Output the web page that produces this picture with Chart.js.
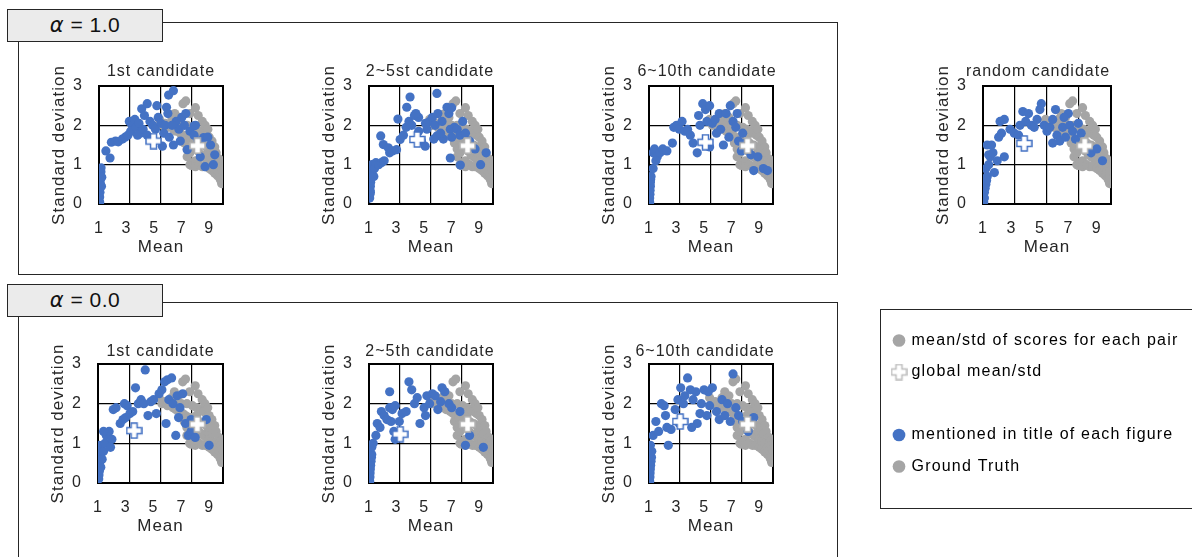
<!DOCTYPE html>
<html>
<head>
<meta charset="utf-8">
<script src="https://cdn.jsdelivr.net/npm/chart.js@4.4.1/dist/chart.umd.min.js"></script>
<style>
  body { margin: 0; width: 1192px; height: 557px; position: relative; overflow: hidden; background: #fff;
         font-family: "Liberation Sans", Arial, sans-serif; }
  .frame { position: absolute; box-sizing: border-box; border: 1.5px solid #262626; }
  .tag { position: absolute; box-sizing: border-box; left: 7px; width: 156px; height: 33px; background: #ebebeb;
         border: 1.5px solid #262626; font-size: 21px; line-height: 30px; text-align: center; color: #111; letter-spacing: 0.5px; }
  .tag i { font-family: "DejaVu Sans", sans-serif; }
  canvas { position: absolute; }
</style>
</head>
<body>
<div class="frame" style="left:18px;top:22px;width:820px;height:253px"></div>
<div class="frame" style="left:18px;top:302px;width:820px;height:300px"></div>
<div class="frame" style="left:880px;top:309px;width:330px;height:200px"></div>
<div class="tag" style="top:9px"><i>α</i> = 1.0</div>
<div class="tag" style="top:284px"><i>α</i> = 0.0</div>

<script>
const FONT = '"Liberation Sans", Arial, sans-serif';
const BLUE = '#4472C4';
const GRAY = '#A5A5A5';
const TEXT = '#262626';

// axis ticks
const xTickValues = [1, 3, 5, 7, 9];
const xGridValues = [1, 3.25, 5.5, 7.75, 10];

// ground truth: mean/std of scores for each pair (same in every panel)
const gtPairs = [
  [5.4,2.15],[5.6,2.0],[5.8,2.05],[6.0,1.95],[6.2,2.0],[6.3,2.15],[6.4,1.9],[6.5,2.3],[6.6,1.85],[6.7,2.05],
  [6.8,2.2],[6.9,1.8],[7.0,2.0],[7.1,2.55],[7.1,1.75],[7.2,1.55],[7.3,2.62],[7.3,1.7],[7.4,2.0],[7.4,1.4],
  [7.4,1.2],[7.5,1.65],[7.6,2.3],[7.6,1.3],[7.6,1.0],[7.7,1.65],[7.7,0.98],[7.8,1.95],[7.8,1.5],[7.8,1.05],
  [7.9,1.6],[8.0,2.45],[8.0,1.45],[8.0,1.1],[8.0,0.95],[8.1,1.9],[8.1,1.7],[8.2,2.25],[8.2,1.35],[8.3,1.55],
  [8.3,1.0],[8.4,1.85],[8.4,1.25],[8.5,2.1],[8.5,0.95],[8.6,1.8],[8.6,1.5],[8.6,1.2],[8.7,2.0],[8.7,0.95],
  [8.8,1.75],[8.8,1.45],[8.8,1.15],[8.9,1.9],[8.9,1.3],[9.0,1.7],[9.0,1.25],[9.0,1.1],[9.0,0.9],[9.1,1.4],
  [9.2,1.6],[9.2,1.05],[9.2,0.85],[9.3,1.25],[9.4,1.45],[9.4,1.0],[9.4,0.78],[9.5,1.3],[9.6,0.9],[9.6,0.72],
  [9.7,1.15],[9.7,0.82],[9.8,1.05],[9.8,0.62],[9.85,0.95],[9.9,0.7],[9.9,0.52],[9.95,0.85],[9.95,0.6]
];
const gtGlobal = [8.15, 1.48];

// alpha = 1.0
const a1First = [
  [1.05,0.05],[1.05,0.18],[1.07,0.3],[1.08,0.42],[1.1,0.52],[1.1,0.62],[1.12,0.72],[1.14,0.82],[1.15,0.92],[1.2,0.68],[1.18,0.45],
  [1.5,1.35],[1.8,1.17],[1.9,1.57],[2.2,1.6],[2.4,1.58],[2.7,1.65],[2.9,1.7],[3.1,1.75],[3.2,2.1],[3.4,2.0],[3.3,1.85],
  [3.6,2.15],[3.7,1.95],[3.9,2.05],[4.0,1.8],[4.1,2.42],[4.3,2.25],[4.5,2.55],[4.2,1.9],[4.5,1.75],[4.7,2.1],[4.9,2.0],
  [5.1,1.9],[5.2,2.5],[5.3,2.2],[5.5,2.05],[5.6,1.47],[5.7,1.8],[5.9,2.46],[6.05,2.77],[6.0,2.3],[6.4,2.88],[6.6,2.1],
  [6.4,1.5],[6.8,1.9],[6.1,1.7],[7.0,2.2],[7.2,2.0],[7.4,1.38],[7.6,1.85],[7.9,1.99],[8.0,2.0],[8.2,1.6],[8.35,1.2],
  [8.6,1.69],[8.7,0.95],[8.9,1.7],[9.1,1.5],[9.3,1.0],[9.4,1.25],[7.9,1.75],[6.9,1.6],[5.8,2.0],[4.8,1.65],[3.8,1.75],[6.3,2.0],[7.3,2.3]
];
const a1FirstGlobal = [4.96, 1.6];

const a1Second = [
  [1.05,0.15],[1.07,0.25],[1.08,0.35],[1.1,0.45],[1.12,0.55],[1.15,0.65],[1.2,0.75],[1.25,0.85],[1.3,0.95],[1.2,1.0],[1.35,0.7],[1.4,0.9],[1.1,0.3],
  [1.5,1.05],[1.7,1.0],[1.9,1.05],[2.1,1.1],[1.85,1.73],[2.04,1.51],[2.4,1.43],[2.5,1.3],[2.7,1.35],[3.0,1.38],[3.26,1.64],
  [3.1,2.16],[3.5,1.75],[3.74,2.46],[3.7,1.95],[3.9,2.1],[3.98,2.72],[4.1,2.0],[4.3,2.25],[4.6,2.2],[4.6,1.85],[4.8,1.6],
  [5.08,1.47],[5.2,1.9],[5.4,2.1],[5.6,2.2],[5.8,2.0],[5.93,2.81],[5.93,1.73],[6.0,2.3],[6.3,2.1],[6.4,1.65],[6.66,2.46],
  [6.8,2.3],[6.9,1.9],[6.9,1.17],[7.0,2.45],[7.2,1.95],[7.4,1.9],[7.6,1.75],[7.63,0.99],[7.8,2.1],[8.0,1.8],[8.3,1.6],
  [8.7,1.4],[9.1,1.0],[9.5,1.3],[7.0,1.7],[6.2,1.8],[5.7,1.65],[4.4,2.3],[5.1,2.05]
];
const a1SecondGlobal = [4.5, 1.64];

const a1Third = [
  [1.05,0.05],[1.05,0.15],[1.07,0.25],[1.08,0.35],[1.1,0.45],[1.05,0.5],[1.1,0.55],[1.12,0.62],[1.15,0.7],
  [1.3,0.9],[1.3,1.3],[1.5,1.1],[1.4,1.4],[1.6,1.2],[1.8,1.3],[2.0,1.4],[2.3,1.35],[2.7,1.55],[2.8,1.95],[3.0,2.0],
  [3.2,1.9],[3.4,2.1],[3.6,1.85],[3.8,1.9],[4.0,1.75],[4.2,1.55],[4.5,1.3],[4.6,2.25],[4.7,2.0],[4.9,2.55],[5.1,2.4],
  [5.2,2.1],[5.4,2.5],[5.6,2.05],[5.8,2.15],[5.9,1.8],[6.1,2.3],[6.4,1.5],[6.2,1.9],[6.6,2.3],[6.9,2.5],[7.1,2.1],
  [7.3,1.95],[7.5,1.6],[7.7,1.35],[7.8,1.8],[8.0,1.55],[8.2,1.4],[8.4,1.25],[8.6,0.85],[8.9,1.2],[9.3,0.9],[9.6,0.85],
  [7.4,2.3],[6.8,1.7],[5.4,1.45]
];
const a1ThirdGlobal = [5.1, 1.57];

const a1Random = [
  [1.05,0.05],[1.1,0.3],[1.2,0.5],[1.3,0.7],[1.2,0.9],[1.1,0.15],[1.15,0.4],[1.25,0.6],[1.4,1.0],[1.5,1.2],[1.3,1.5],
  [1.6,1.5],[1.4,1.25],[1.7,1.3],[1.8,0.8],[2.0,1.1],[2.1,1.7],[2.3,1.8],[2.2,2.1],[2.5,2.15],[2.5,1.2],[2.9,1.9],
  [3.2,1.8],[3.5,1.75],[3.6,2.0],[3.8,2.35],[4.0,2.1],[4.2,2.3],[4.4,2.0],[4.6,1.95],[4.8,2.15],[5.0,2.4],[5.1,2.55],
  [5.3,2.0],[5.5,1.85],[5.7,1.95],[5.9,2.15],[6.1,2.4],[6.2,1.75],[6.4,1.6],[6.6,1.95],[6.8,1.7],[7.0,2.3],[7.1,2.0],
  [7.3,1.85],[7.5,1.65],[7.7,2.05],[7.9,1.8],[8.2,1.5],[8.6,1.3],[9.0,1.4],[9.4,1.1],[5.9,1.55],[6.7,2.2]
];
const a1RandomGlobal = [3.9, 1.54];

// alpha = 0.0
const a0First = [
  [1.05,0.1],[1.07,0.2],[1.1,0.3],[1.12,0.45],[1.15,0.55],[1.18,0.7],[1.2,0.85],[1.1,0.95],[1.25,0.6],
  [1.2,0.4],[1.3,0.6],[1.4,0.8],[1.5,1.0],[1.6,1.2],[1.8,1.3],[2.0,1.1],[1.9,0.9],[1.4,1.3],[2.1,1.85],[2.3,1.9],
  [2.6,1.5],[2.8,1.6],[3.0,1.65],[2.9,2.0],[3.1,1.95],[3.3,1.75],[3.5,1.8],[3.7,2.4],[3.9,2.0],[4.1,2.1],[4.3,2.0],
  [4.4,2.85],[4.6,1.7],[4.8,2.05],[5.0,2.1],[5.2,1.75],[5.4,2.25],[5.6,2.35],[5.8,2.55],[6.0,2.6],[6.3,2.65],[5.9,1.5],
  [6.1,2.1],[6.4,2.0],[6.7,2.2],[6.9,1.9],[7.1,2.25],[6.8,1.65],[7.3,1.5],[7.5,1.2],[7.7,1.3],[8.0,1.15],[8.8,1.6],
  [9.0,0.95],[6.6,1.2],[7.7,1.6]
];
const a0FirstGlobal = [3.6, 1.32];

const a0Second = [
  [1.05,0.05],[1.07,0.15],[1.08,0.25],[1.1,0.35],[1.12,0.45],[1.15,0.55],[1.18,0.65],[1.2,0.72],
  [1.2,0.9],[1.3,1.0],[1.5,1.2],[1.6,1.5],[1.8,1.4],[1.9,1.8],[2.1,1.7],[2.3,1.6],[2.5,1.9],[2.7,1.85],[2.9,1.95],
  [2.5,2.3],[2.6,1.55],[2.8,1.3],[2.9,1.1],[3.2,1.55],[3.4,1.75],[3.7,1.8],[3.9,2.55],[4.1,2.35],[4.3,2.0],[4.5,2.15],
  [4.7,1.5],[5.0,1.9],[5.2,2.2],[5.4,2.0],[5.6,2.25],[5.8,2.2],[6.0,1.85],[6.3,2.4],[6.5,2.3],[6.8,2.0],[7.0,1.9],
  [7.6,1.8],[8.0,0.95],[8.3,1.2],[9.3,0.9],[6.2,2.05],[5.1,1.7]
];
const a0SecondGlobal = [3.26, 1.23];

const a0Third = [
  [1.05,0.05],[1.07,0.15],[1.08,0.25],[1.1,0.35],[1.12,0.45],[1.15,0.55],[1.18,0.65],[1.2,0.8],[1.1,0.95],
  [1.3,1.2],[1.5,1.55],[1.7,1.3],[1.9,2.0],[2.1,1.95],[2.2,1.7],[2.3,1.4],[2.4,0.95],[2.6,1.35],[2.9,1.85],[3.1,2.1],
  [3.3,2.4],[3.5,2.0],[3.6,2.2],[3.8,2.65],[4.0,2.35],[4.2,2.1],[4.4,2.3],[4.5,1.5],[4.7,1.75],[4.8,2.0],[5.0,2.35],
  [5.2,1.7],[5.4,1.95],[5.6,2.4],[5.9,1.8],[6.1,1.6],[6.3,2.1],[6.5,1.7],[6.7,2.0],[6.9,1.55],[7.1,2.75],[7.3,1.9],
  [7.5,1.7],[7.8,1.55],[8.2,1.3],[8.6,1.65],[3.2,1.5],[4.1,1.4],[5.3,2.3]
];
const a0ThirdGlobal = [3.26, 1.55];

// legend
const legendText = ['mean/std of scores for each pair', 'global mean/std', '', 'mentioned in title of each figure', 'Ground Truth'];

function crossImage(stroke) {
  const c = document.createElement('canvas');
  c.width = 17; c.height = 17;
  const g = c.getContext('2d');
  const lo = 1, a = 5.5, b = 11.5, hi = 16;
  g.beginPath();
  g.moveTo(a, lo); g.lineTo(b, lo); g.lineTo(b, a); g.lineTo(hi, a); g.lineTo(hi, b); g.lineTo(b, b);
  g.lineTo(b, hi); g.lineTo(a, hi); g.lineTo(a, b); g.lineTo(lo, b); g.lineTo(lo, a); g.lineTo(a, a);
  g.closePath();
  g.fillStyle = '#fff'; g.fill();
  g.lineWidth = 1.5; g.strokeStyle = stroke; g.stroke();
  return c;
}

const blueCross = crossImage(BLUE);
const grayCross = crossImage('#b0b0b0');
const legendCross = crossImage('#bdbdbd');

const spacing = (px) => ({
  id: 'spacing',
  beforeUpdate(c) { c.ctx.letterSpacing = px; },
  beforeDraw(c) { c.ctx.letterSpacing = px; },
});

const toPts = (pairs) => pairs.map(([x, y]) => ({ x, y }));

const panels = [
  { title: '1st candidate',     blue: a1First,  global: a1FirstGlobal,  x: 99,  y: 86,  w: 124, h: 116, shift: 0,  gap: 14 },
  { title: '2~5st candidate',   blue: a1Second, global: a1SecondGlobal, x: 369, y: 86,  w: 124, h: 116, shift: -1, gap: 14 },
  { title: '6~10th candidate',  blue: a1Third,  global: a1ThirdGlobal,  x: 649, y: 86,  w: 124, h: 116, shift: -4, gap: 14 },
  { title: 'random candidate',  blue: a1Random, global: a1RandomGlobal, x: 983, y: 86,  w: 128, h: 116, shift: -9, gap: 14 },
  { title: '1st candidate',     blue: a0First,  global: a0FirstGlobal,  x: 98,  y: 364, w: 125, h: 117, shift: 0,  gap: 12 },
  { title: '2~5th candidate',   blue: a0Second, global: a0SecondGlobal, x: 369, y: 364, w: 124, h: 117, shift: -1, gap: 12 },
  { title: '6~10th candidate',  blue: a0Third,  global: a0ThirdGlobal,  x: 649, y: 364, w: 124, h: 117, shift: -6, gap: 12 },
];

function makePanel(p) {
  const padL = 50, padR = 50 + 2 * p.shift, top = 30, bottom = 56;
  const cv = document.createElement('canvas');
  const W = padL + p.w + padR, H = top + p.h + bottom;
  cv.width = W; cv.height = H;
  cv.style.left = (p.x - padL) + 'px';
  cv.style.top = (p.y - top) + 'px';
  cv.style.width = W + 'px';
  cv.style.height = H + 'px';
  document.body.appendChild(cv);

  const titleBottom = p.gap - 9.6;
  const edge = { display: true, color: '#000', width: 2 };

  new Chart(cv, {
    type: 'scatter',
    data: {
      datasets: [
        { data: toPts([p.global]), pointStyle: blueCross },
        { data: toPts([gtGlobal]), pointStyle: grayCross },
        { data: toPts(p.blue), backgroundColor: BLUE, pointRadius: 4.6, borderWidth: 0 },
        { data: toPts(gtPairs), backgroundColor: GRAY, pointRadius: 4.6, borderWidth: 0 },
      ],
    },
    options: {
      responsive: false,
      animation: false,
      events: [],
      layout: { padding: 0 },
      plugins: {
        legend: { display: false },
        tooltip: { enabled: false },
        title: {
          display: true,
          text: p.title,
          color: TEXT,
          font: { family: FONT, size: 16, weight: 'normal' },
          padding: { top: top - 19.2 - titleBottom, bottom: titleBottom },
        },
      },
      scales: {
        x: {
          type: 'linear', position: 'bottom', min: 1, max: 10,
          afterBuildTicks: (s) => { s.ticks = xTickValues.map((v) => ({ value: v })); },
          ticks: { color: TEXT, font: { family: FONT, size: 16 }, padding: 15, autoSkip: false, maxRotation: 0 },
          grid: { display: false, drawTicks: false },
          border: edge,
          title: { display: true, text: 'Mean', color: TEXT, font: { family: FONT, size: 17 }, padding: 0 },
          afterFit: (s) => { s.height = 54; },
        },
        xg: {
          type: 'linear', position: 'top', min: 1, max: 10,
          afterBuildTicks: (s) => { s.ticks = xGridValues.map((v) => ({ value: v })); },
          ticks: { display: false },
          grid: { color: '#000', lineWidth: 1.2, drawTicks: false },
          border: edge,
          afterFit: (s) => { s.height = 0; },
        },
        y: {
          type: 'linear', position: 'left', min: 0, max: 3,
          ticks: { stepSize: 1, color: TEXT, font: { family: FONT, size: 16 }, padding: 16 },
          grid: { color: '#000', lineWidth: 1.2, drawTicks: false },
          border: edge,
          title: { display: true, text: 'Standard deviation', color: TEXT, font: { family: FONT, size: 17 }, padding: 0 },
          afterFit: (s) => { s.width = padL; },
        },
        yr: {
          type: 'linear', position: 'right', min: 0, max: 3,
          ticks: { display: false },
          grid: { display: false, drawTicks: false },
          border: edge,
          afterFit: (s) => { s.width = padR; },
        },
      },
    },
    plugins: [spacing('1px')],
  });
}

panels.forEach(makePanel);

// legend panel
const legendMarks = ['circle', legendCross, 'circle', 'circle', 'circle'];
const legendFill = [GRAY, '#fff', 'rgba(0,0,0,0)', BLUE, GRAY];

const lc = document.createElement('canvas');
lc.width = 310; lc.height = 190;
lc.style.left = '879px'; lc.style.top = '312px';
lc.style.width = '310px'; lc.style.height = '190px';
document.body.appendChild(lc);

new Chart(lc, {
  type: 'scatter',
  data: { datasets: [] },
  options: {
    responsive: false,
    animation: false,
    events: [],
    layout: { padding: { top: 5, left: 0 } },
    scales: { x: { display: false }, y: { display: false } },
    plugins: {
      tooltip: { enabled: false },
      legend: {
        display: true,
        position: 'left',
        align: 'start',
        maxWidth: 310,
        labels: {
          usePointStyle: true,
          boxWidth: 9,
          boxHeight: 9,
          padding: 15.5,
          color: TEXT,
          font: { family: FONT, size: 16 },
          generateLabels: () => legendText.map((t, i) => ({
            text: t,
            fillStyle: legendFill[i],
            strokeStyle: legendFill[i],
            lineWidth: 0,
            pointStyle: legendMarks[i],
            hidden: false,
            datasetIndex: i,
          })),
        },
      },
    },
  },
  plugins: [spacing('1.2px')],
});
</script>
</body>
</html>
